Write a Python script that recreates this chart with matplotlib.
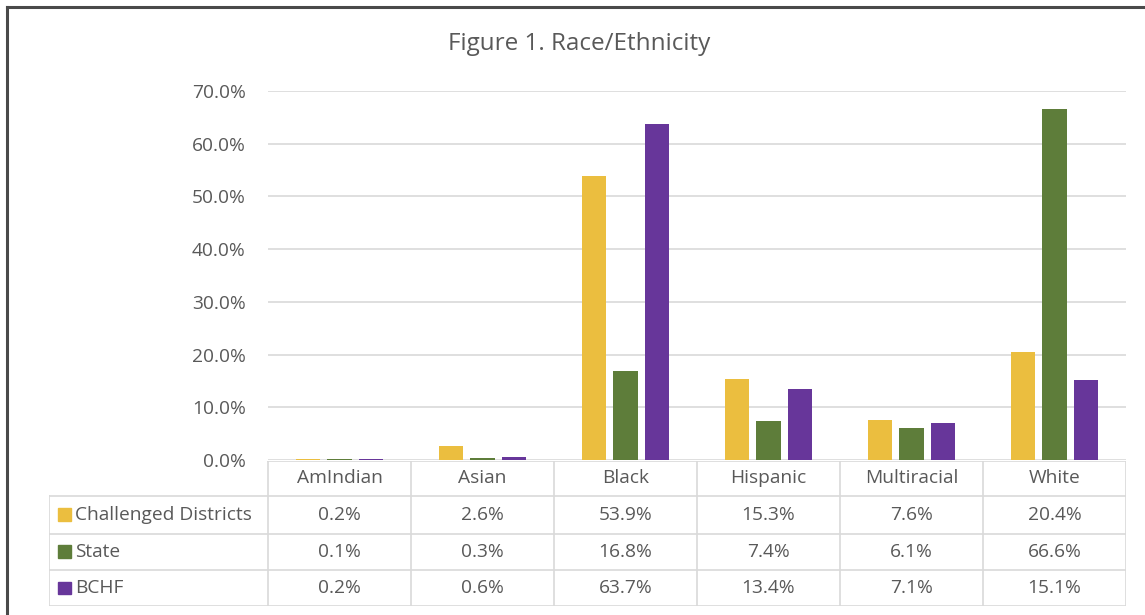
import matplotlib
matplotlib.use("Agg")
import numpy as np
from matplotlib import pyplot as plt
from matplotlib.lines import Line2D
from matplotlib.patches import Rectangle
from matplotlib.ticker import PercentFormatter

categories = ["AmIndian", "Asian", "Black", "Hispanic", "Multiracial", "White"]
series_names = ["Challenged Districts", "State", "BCHF"]
challenged = [0.2, 2.6, 53.9, 15.3, 7.6, 20.4]
state = [0.1, 0.3, 16.8, 7.4, 6.1, 66.6]
bchf = [0.2, 0.6, 63.7, 13.4, 7.1, 15.1]
colors = ["#EBBE3F", "#5E7D3A", "#67369A"]

TEXT = "#595959"
GRID = "#D9D9D9"
FONT = "Open Sans"
FS = 13.8

plt.rcParams["font.family"] = [FONT, "DejaVu Sans"]

W, H = 1145, 615
fig = plt.figure(figsize=(W / 100, H / 100), dpi=100)


def fx(px):
    return px / W


def fy(py):
    return 1 - py / H


# plot area
left, right, top, bottom = 268, 1126, 91, 460
ax = fig.add_axes([fx(left), fy(bottom), fx(right - left), fy(top) - fy(bottom)])

x = np.arange(len(categories))
step = 0.222
width = 0.168
for i, (vals, col) in enumerate(zip([challenged, state, bchf], colors)):
    ax.bar(x + (i - 1) * step, np.array(vals) / 100, width=width, color=col,
           linewidth=0, zorder=3)

ax.set_xlim(-0.5, len(categories) - 0.5)
ax.set_ylim(0, 0.7)
ax.set_yticks(np.arange(0, 0.71, 0.1))
ax.yaxis.set_major_formatter(PercentFormatter(1.0, decimals=1))
ax.tick_params(axis="y", length=0, pad=16, labelsize=FS, labelcolor=TEXT)
ax.set_xticks([])
ax.grid(True, axis="y", color=GRID, linewidth=1.2, zorder=0)
for s in ax.spines.values():
    s.set_visible(False)

fig.text(fx(579), fy(44), "Figure 1. Race/Ethnicity", ha="center", va="center",
         fontsize=17.5, color=TEXT)

# data table
t_left, t_top, t_bottom = 49, 461, 606
tax = fig.add_axes([fx(t_left), fy(t_bottom), fx(right - t_left), fy(t_top) - fy(t_bottom)])
label_w = (left - t_left) / ((right - left) / len(categories))
tax.set_xlim(-0.5 - label_w, len(categories) - 0.5)
tax.set_ylim(4, 0)
tax.axis("off")

row_h = [0, 0.96, 2.0, 3.0, 4.0]
lw = 1.2
# horizontal lines
tax.plot([-0.5, len(categories) - 0.5], [row_h[0]] * 2, color=GRID, lw=lw)
for r in row_h[1:]:
    tax.plot([-0.5 - label_w, len(categories) - 0.5], [r] * 2, color=GRID, lw=lw)
# vertical lines
for c in range(len(categories) + 1):
    tax.plot([c - 0.5] * 2, [row_h[0], row_h[-1]], color=GRID, lw=lw)
tax.plot([-0.5 - label_w] * 2, [row_h[1], row_h[-1]], color=GRID, lw=lw)

for c, name in enumerate(categories):
    tax.text(c, (row_h[0] + row_h[1]) / 2, name, ha="center", va="center",
             fontsize=FS, color=TEXT)

for r, (name, vals, col) in enumerate(zip(series_names, [challenged, state, bchf], colors)):
    yc = (row_h[r + 1] + row_h[r + 2]) / 2
    tax.add_patch(Rectangle((-0.5 - label_w + 0.063, yc - 0.17), 0.09, 0.34,
                            color=col, transform=tax.transData))
    tax.text(-0.5 - label_w + 0.18, yc, name, ha="left", va="center",
             fontsize=FS, color=TEXT)
    for c, v in enumerate(vals):
        tax.text(c, yc, f"{v:.1f}%", ha="center", va="center", fontsize=FS, color=TEXT)

# outer chart border (left and top only visible)
fig.add_artist(Line2D([fx(7), fx(7)], [fy(7), 0], color="#4A4A4A", lw=2.2))
fig.add_artist(Line2D([fx(7), 1], [fy(7), fy(7)], color="#4A4A4A", lw=2.2))

fig.savefig("out.png", dpi=100, facecolor="white")
